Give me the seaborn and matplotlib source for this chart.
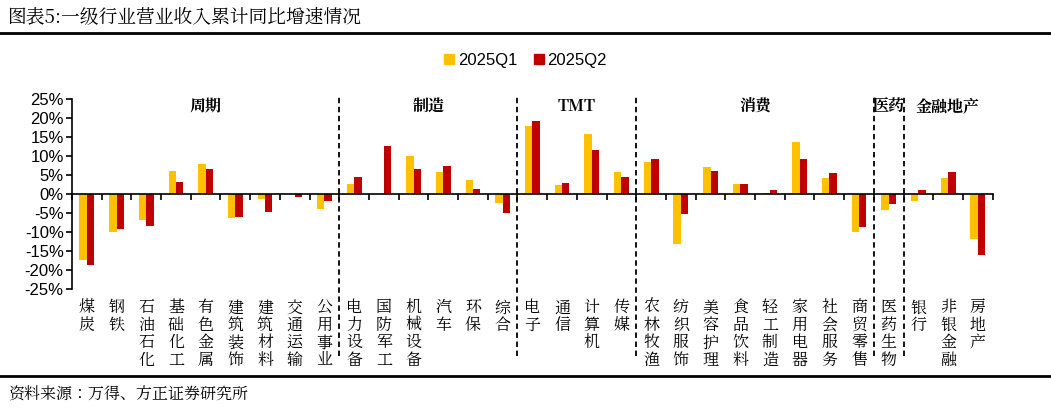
import numpy as np
import pandas as pd
import matplotlib
matplotlib.use("Agg")
import matplotlib.pyplot as plt
import matplotlib.transforms as mtransforms
from matplotlib import font_manager
from matplotlib.lines import Line2D
import seaborn as sns

# find a CJK font file
cjk_name = 'Noto Sans CJK SC'
for f in font_manager.fontManager.ttflist:
    if 'CJK' in f.name:
        cjk_name = f.name
        if f.name.endswith('SC'):
            break
plt.rcParams['font.family'] = 'sans-serif'
plt.rcParams['font.sans-serif'] = [cjk_name, 'DejaVu Sans']
plt.rcParams['axes.unicode_minus'] = False

# data
industries = ['煤炭', '钢铁', '石油石化', '基础化工', '有色金属', '建筑装饰', '建筑材料', '交通运输', '公用事业',
              '电力设备', '国防军工', '机械设备', '汽车', '环保', '综合',
              '电子', '通信', '计算机', '传媒',
              '农林牧渔', '纺织服饰', '美容护理', '食品饮料', '轻工制造', '家用电器', '社会服务', '商贸零售',
              '医药生物',
              '银行', '非银金融', '房地产']
q1 = [-17.4, -10.0, -6.7, 6.0, 8.0, -6.3, -1.4, 0.0, -4.0,
      2.7, 0.0, 10.0, 5.9, 3.6, -2.4,
      17.9, 2.5, 15.9, 5.8,
      8.3, -13.2, 7.0, 2.6, 0.2, 13.6, 4.3, -10.0,
      -4.1,
      -1.8, 4.1, -11.8]
q2 = [-18.6, -9.2, -8.3, 3.3, 6.5, -6.0, -4.8, -0.8, -1.8,
      4.6, 12.7, 6.7, 7.4, 1.4, -5.0,
      19.1, 3.0, 11.7, 4.4,
      9.1, -5.3, 6.1, 2.6, 1.1, 9.3, 5.5, -8.6,
      -2.6,
      1.1, 5.8, -16.0]
groups = ['周期', '制造', 'TMT', '消费', '医药', '金融地产']
group_sizes = [9, 6, 4, 8, 1, 3]
series = ['2025Q1', '2025Q2']
colors = ['#FFC000', '#C00000']

df = pd.DataFrame({'行业': industries * 2,
                   '增速': q1 + q2,
                   '季度': [series[0]] * len(industries) + [series[1]] * len(industries)})

fig = plt.figure(figsize=(10.51, 4.09), dpi=100)
ax = fig.add_axes([0.0685, 0.293, 0.876, 0.465])

sns.barplot(data=df, x='行业', y='增速', hue='季度', palette=colors, width=0.5,
            saturation=1, order=industries, ax=ax, legend=False)

n = len(industries)
ax.set_xlim(-0.5, n - 0.5)
ax.set_ylim(-25, 25)
ax.set_yticks(np.arange(-25, 26, 5))
ax.set_yticklabels([f'{v}%' for v in range(-25, 26, 5)], fontsize=12, family='Liberation Sans')
ax.set_xlabel('')
ax.set_ylabel('')
for s in ['top', 'right']:
    ax.spines[s].set_visible(False)
ax.spines['bottom'].set_position(('data', 0))
ax.spines['left'].set_linewidth(1.2)
ax.spines['bottom'].set_linewidth(1.2)
ax.set_xticks(np.arange(-0.5, n, 1))
ax.set_xticklabels([])
ax.tick_params(axis='x', direction='out', length=4, width=1.2)
ax.tick_params(axis='y', direction='out', length=4, width=1.2, pad=2)

trans = mtransforms.blended_transform_factory(ax.transData, ax.transAxes)
# vertical category labels
for i, name in enumerate(industries):
    ax.text(i, -0.05, '\n'.join(name), transform=trans, ha='center', va='top',
            fontsize=11.5, linespacing=1.0)

# group dividers and names
start = 0
for k, (g, size) in enumerate(zip(groups, group_sizes)):
    mid = start + (size - 1) / 2
    ax.text(mid, 0.96, g, transform=trans, ha='center', va='center',
            fontsize=11.5, fontweight='bold')
    end = start + size
    if k < len(groups) - 1:
        ax.plot([end - 0.5, end - 0.5], [-0.35, 1.02], transform=trans, color='black',
                ls=(0, (3, 2)), lw=1.3, clip_on=False)
    start = end

handles = [plt.Rectangle((0, 0), 1, 1, color=c) for c in colors]
fig.legend(handles, series, loc='center', bbox_to_anchor=(0.5, 0.852), ncol=2, frameon=False,
           handlelength=0.6, handleheight=0.6, handletextpad=0.2, columnspacing=1.0,
           prop={'family': 'Liberation Sans', 'size': 12})

fig.text(0.008, 0.955, '图表5:一级行业营业收入累计同比增速情况', fontsize=13.5, va='center')
fig.add_artist(Line2D([0.0, 1.0], [0.92, 0.92], color='black', lw=2))
fig.add_artist(Line2D([0.0, 1.0], [0.081, 0.081], color='black', lw=2))
fig.text(0.008, 0.035, '资料来源：万得、方正证券研究所', fontsize=11.5, va='center', style='italic')

fig.savefig('out.png', dpi=100)
